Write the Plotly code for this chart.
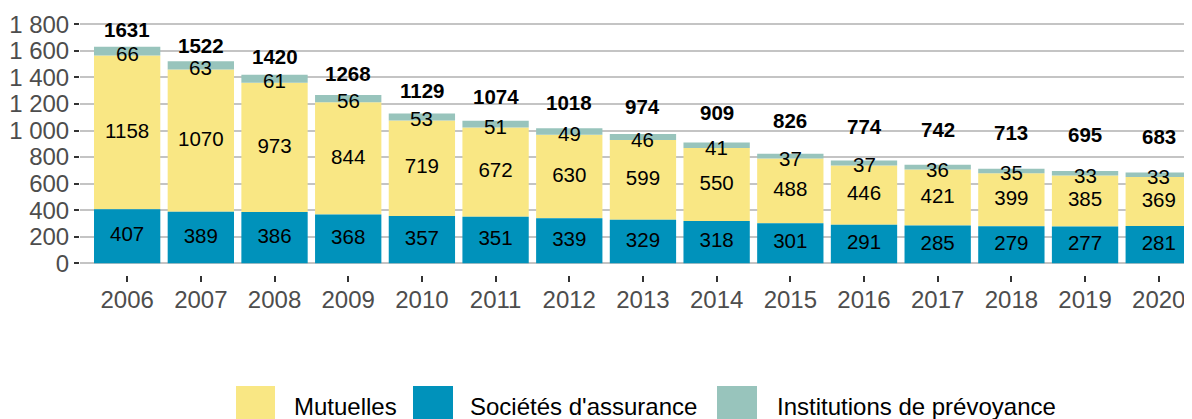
import plotly.graph_objects as go

years = ["2006", "2007", "2008", "2009", "2010", "2011", "2012", "2013", "2014",
         "2015", "2016", "2017", "2018", "2019", "2020"]
societes = [407, 389, 386, 368, 357, 351, 339, 329, 318, 301, 291, 285, 279, 277, 281]
mutuelles = [1158, 1070, 973, 844, 719, 672, 630, 599, 550, 488, 446, 421, 399, 385, 369]
institutions = [66, 63, 61, 56, 53, 51, 49, 46, 41, 37, 37, 36, 35, 33, 33]
totals = [1631, 1522, 1420, 1268, 1129, 1074, 1018, 974, 909, 826, 774, 742, 713, 695, 683]
ytick_vals = [0, 200, 400, 600, 800, 1000, 1200, 1400, 1600, 1800]
ytick_text = ["0", "200", "400", "600", "800", "1 000", "1 200", "1 400", "1 600", "1 800"]
series_names = ["Mutuelles", "Sociétés d'assurance", "Institutions de prévoyance"]

# styling (pixel offsets of the bold total labels above each bar)
total_label_shift = [17, 16, 18, 21, 23, 24, 26, 27, 30, 33, 34.5, 35, 36, 36.5, 36.5]

C_MUT = "#F9E784"
C_SOC = "#0092BB"
C_INS = "#98C4BC"
FONT = "Liberation Sans, Arial, sans-serif"
LAB = 20.5
AX = 24

fig = go.Figure()
fig.add_trace(go.Bar(x=years, y=mutuelles, base=societes, name=series_names[0],
                     marker=dict(color=C_MUT, line=dict(width=0)), width=0.9,
                     textposition="none", hoverinfo="skip"))
fig.add_trace(go.Bar(x=years, y=societes, name=series_names[1],
                     marker=dict(color=C_SOC, line=dict(width=0)), width=0.9,
                     textposition="none", hoverinfo="skip"))
base_ins = [s + m for s, m in zip(societes, mutuelles)]
fig.add_trace(go.Bar(x=years, y=institutions, base=base_ins, name=series_names[2],
                     marker=dict(color=C_INS, line=dict(width=0)), width=0.9,
                     textposition="none", hoverinfo="skip"))

# labels
lab_font = dict(size=LAB, color="black", family=FONT)
fig.add_trace(go.Scatter(x=years, y=[s / 2 for s in societes], mode="text",
                         text=[str(v) for v in societes], showlegend=False,
                         textfont=lab_font, hoverinfo="skip"))
fig.add_trace(go.Scatter(x=years, y=[s + m / 2 for s, m in zip(societes, mutuelles)], mode="text",
                         text=[str(v) for v in mutuelles], showlegend=False,
                         textfont=lab_font, hoverinfo="skip"))
for i, (b, v) in enumerate(zip(base_ins, institutions)):
    fig.add_annotation(x=i, y=b + v / 2, yshift=-2, text=str(v), showarrow=False,
                       xanchor="center", yanchor="middle", font=lab_font)

for i, tot in enumerate(totals):
    fig.add_annotation(x=i, y=tot, yshift=total_label_shift[i], text="<b>%d</b>" % tot,
                       showarrow=False, xanchor="center", yanchor="middle",
                       font=dict(size=LAB, color="black", family=FONT))

# custom legend (large square keys like the reference)
# paper coords: plot area spans window x 80..1200, y 14..275
def px(X):
    return (X - 80) / 1120.0

def py(Y):
    return (275 - Y) / 261.0

leg_items = [(C_MUT, 236, 275, 292), (C_SOC, 413, 453, 468), (C_INS, 717, 757, 775)]
for (col, x0, x1, tx), name in zip(leg_items, series_names):
    fig.add_shape(type="rect", xref="paper", yref="paper", x0=px(x0), x1=px(x1),
                  y0=py(386), y1=py(430), fillcolor=col, line=dict(width=0), layer="above")
    fig.add_annotation(xref="paper", yref="paper", x=px(tx), y=py(406), text=name,
                       showarrow=False, xanchor="left", yanchor="middle",
                       font=dict(size=AX, color="black", family=FONT))

fig.update_layout(
    width=1192, height=419,
    margin=dict(l=72, r=0, t=6, b=152, autoexpand=False),
    barmode="overlay",
    plot_bgcolor="white", paper_bgcolor="white",
    font=dict(family=FONT, color="#4d4d4d"),
    showlegend=False,
)
fig.update_xaxes(type="category", range=[-0.64, 14.56], showgrid=False, showline=False,
                 zeroline=False, ticks="outside", ticklen=6, tickcolor="#333333",
                 tickwidth=1.5, automargin=False, ticklabelstandoff=-3,
                 tickfont=dict(size=AX, color="#4d4d4d", family=FONT))
fig.update_yaxes(range=[-88, 1877.5], tickvals=ytick_vals, ticktext=ytick_text,
                 showgrid=True, gridcolor="#C4C4C4", gridwidth=1.8, zeroline=False,
                 showline=False, ticks="outside", ticklen=5, tickcolor="#333333",
                 tickwidth=1.5, automargin=False,
                 tickfont=dict(size=AX, color="#4d4d4d", family=FONT))

fig.write_html("out.html")
